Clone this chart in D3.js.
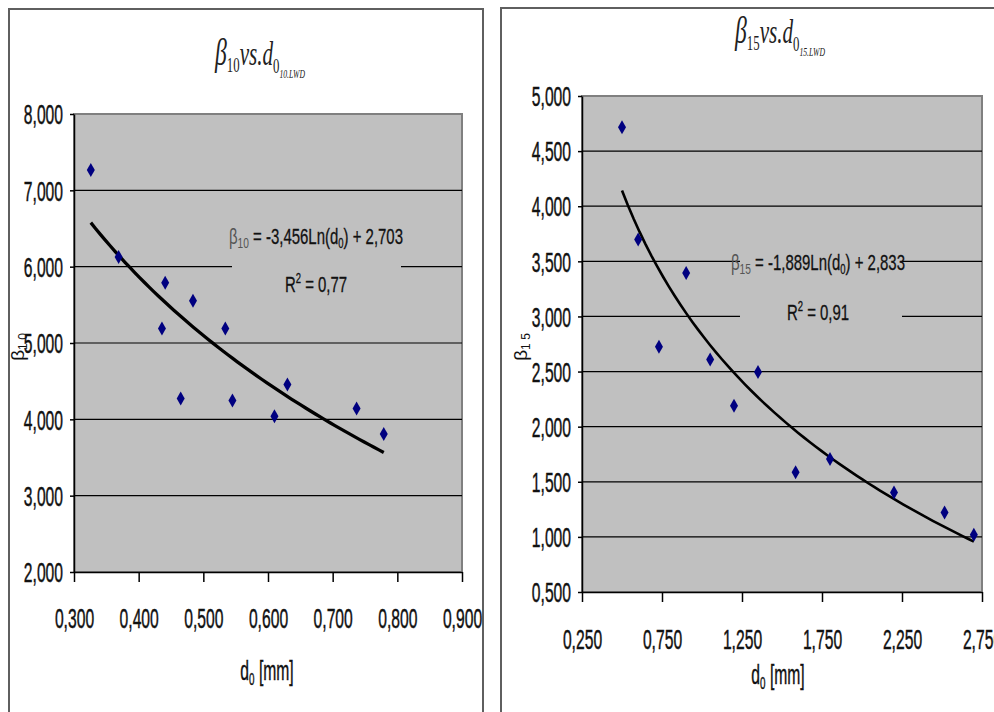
<!DOCTYPE html>
<html>
<head>
<meta charset="utf-8">
<script src="https://cdn.jsdelivr.net/npm/d3@7"></script>
<style>
  body { margin: 0; background: #fff; }
  svg { display: block; }
</style>
</head>
<body>
<svg id="chart" width="994" height="712"></svg>
<script>
// --- data ---
var leftD0   = [0.326, 0.369, 0.436, 0.441, 0.465, 0.484, 0.534, 0.545, 0.610, 0.630, 0.737, 0.779];
var leftBeta = [7.265, 6.128, 5.190, 5.790, 4.272, 5.553, 5.190, 4.246, 4.040, 4.456, 4.142, 3.808];
var rightD0   = [0.500, 0.601, 0.731, 0.901, 1.051, 1.200, 1.350, 1.585, 1.800, 2.200, 2.516, 2.699];
var rightBeta = [4.717, 3.698, 2.725, 3.395, 2.610, 2.190, 2.496, 1.587, 1.707, 1.402, 1.221, 1.019];

// log trend coefficients as printed on the chart: beta = a*ln(d0) + b
var trendA = [-3.456, -1.889];
var trendB = [2.703, 2.833];
var eqCoef = ["-3,456", "-1,889"];
var eqConst = ["2,703", "2,833"];
var rSquared = ["0,77", "0,91"];

var leftXTicks  = [0.3, 0.4, 0.5, 0.6, 0.7, 0.8, 0.9];
var leftYTicks  = [2, 3, 4, 5, 6, 7, 8];
var rightXTicks = [0.25, 0.75, 1.25, 1.75, 2.25, 2.75];
var rightYTicks = [0.5, 1, 1.5, 2, 2.5, 3, 3.5, 4, 4.5, 5];

var subs = ["10", "15"];

var svg = d3.select("#chart");
var SX = 0.58;           // narrow look of the labels
var fmt = function(d) { return d3.format(".3f")(d).replace(".", ","); };

// panel frames
svg.append("rect").attr("x", 9).attr("y", 9).attr("width", 474).attr("height", 720)
    .attr("fill", "#fff").attr("stroke", "#5f5f5f").attr("stroke-width", 2);
svg.append("rect").attr("x", 501).attr("y", 8).attr("width", 520).attr("height", 720)
    .attr("fill", "#fff").attr("stroke", "#5f5f5f").attr("stroke-width", 2);

drawPanel({
  i: 0, xs: leftD0, ys: leftBeta,
  xDom: [0.3, 0.9], xRange: [74, 462], yDom: [2, 8], yRange: [572, 114],
  xTicks: leftXTicks, yTicks: leftYTicks,
  title: [260, 65], yLab: [24, 347], xLab: [267, 680], xLabY: 46, lw: 3.3,
  box: [232, 222, 169, 80], eq: [316, 244, 292]
});
drawPanel({
  i: 1, xs: rightD0, ys: rightBeta,
  xDom: [0.25, 2.75], xRange: [582, 982], yDom: [0.5, 5], yRange: [592, 96],
  xTicks: rightXTicks, yTicks: rightYTicks,
  title: [780, 43], yLab: [527, 347], xLab: [778, 684], xLabY: 47, lw: 2.6,
  box: [740, 245, 162, 88], eq: [818, 270, 320]
});

function drawPanel(c) {
  var x = d3.scaleLinear().domain(c.xDom).range(c.xRange);
  var y = d3.scaleLinear().domain(c.yDom).range(c.yRange);
  var g = svg.append("g");

  // plot area
  g.append("rect")
      .attr("x", c.xRange[0]).attr("y", c.yRange[1])
      .attr("width", c.xRange[1] - c.xRange[0]).attr("height", c.yRange[0] - c.yRange[1])
      .attr("fill", "#c0c0c0").attr("stroke", "#808080").attr("stroke-width", 2);

  // grid lines
  g.selectAll(".grid")
      .data(c.yTicks.slice(1, -1))
      .enter().append("line")
      .attr("x1", c.xRange[0]).attr("x2", c.xRange[1])
      .attr("y1", function(d) { return y(d); }).attr("y2", function(d) { return y(d); })
      .attr("stroke", "#000").attr("stroke-width", 1.2);

  // box behind the equation
  g.append("rect")
      .attr("x", c.box[0]).attr("y", c.box[1]).attr("width", c.box[2]).attr("height", c.box[3])
      .attr("fill", "#c0c0c0");

  // axes
  var ya = g.append("g").attr("transform", "translate(" + c.xRange[0] + ",0)")
      .call(d3.axisLeft(y).tickValues(c.yTicks).tickFormat(fmt).tickSize(4).tickSizeOuter(0));
  var xa = g.append("g").attr("transform", "translate(0," + c.yRange[0] + ")")
      .call(d3.axisBottom(x).tickValues(c.xTicks).tickFormat(fmt).tickSize(10).tickSizeOuter(0));
  [ya, xa].forEach(function(a) {
    a.select(".domain").attr("stroke", "#000").attr("stroke-width", 1.5);
    a.selectAll(".tick line").attr("stroke", "#000").attr("stroke-width", 1.5);
    a.selectAll("text").attr("font-family", "'Liberation Sans', Arial, sans-serif")
        .attr("font-size", 27).attr("fill", "#111")
        .attr("stroke", "#111").attr("stroke-width", 0.45);
  });
  ya.selectAll("text").attr("x", -11 / SX).attr("dy", "0.36em").attr("transform", "scale(" + SX + ",1)");
  xa.selectAll("text").attr("y", c.xLabY).attr("dy", "0.36em").attr("transform", "scale(" + SX + ",1)")
      .attr("x", 0);

  // trend line
  var lo = d3.min(c.xs), hi = d3.max(c.xs);
  var pts = d3.range(0, 61).map(function(k) {
    var v = lo + (hi - lo) * k / 60;
    return [v, trendA[c.i] * Math.log(v) + trendB[c.i]];
  });
  g.append("path")
      .datum(pts)
      .attr("d", d3.line().x(function(d) { return x(d[0]); }).y(function(d) { return y(d[1]); }))
      .attr("fill", "none").attr("stroke", "#000").attr("stroke-width", c.lw);

  // diamonds
  g.selectAll(".pt")
      .data(c.xs.map(function(v, k) { return [v, c.ys[k]]; }))
      .enter().append("path")
      .attr("transform", function(d) { return "translate(" + x(d[0]) + "," + y(d[1]) + ")"; })
      .attr("d", "M0,-7L4,0L0,7L-4,0Z")
      .attr("fill", "#000080");

  // equation
  var eq = g.append("text")
      .attr("transform", "translate(" + c.eq[0] + "," + c.eq[1] + ") scale(0.68,1)")
      .attr("text-anchor", "middle")
      .attr("font-family", "'Liberation Sans', Arial, sans-serif")
      .attr("font-size", 22).attr("fill", "#111")
      .attr("stroke", "#111").attr("stroke-width", 0.3);
  eq.append("tspan").text("β").attr("fill", "#555").attr("stroke", "none");
  eq.append("tspan").text(subs[c.i]).attr("font-size", 15).attr("dy", 4).attr("fill", "#555").attr("stroke", "none");
  eq.append("tspan").text(" = " + eqCoef[c.i] + "Ln(d").attr("dy", -4);
  eq.append("tspan").text("0").attr("font-size", 14).attr("dy", 4);
  eq.append("tspan").text(") + " + eqConst[c.i]).attr("dy", -4);

  var r2 = g.append("text")
      .attr("transform", "translate(" + c.eq[0] + "," + c.eq[2] + ") scale(0.68,1)")
      .attr("text-anchor", "middle")
      .attr("font-family", "'Liberation Sans', Arial, sans-serif")
      .attr("font-size", 22).attr("fill", "#111")
      .attr("stroke", "#111").attr("stroke-width", 0.3);
  r2.append("tspan").text("R");
  r2.append("tspan").text("2").attr("font-size", 14).attr("dy", -9);
  r2.append("tspan").text(" = " + rSquared[c.i]).attr("dy", 9);

  // title
  var t = svg.append("text")
      .attr("transform", "translate(" + c.title[0] + "," + c.title[1] + ") scale(0.64,1)")
      .attr("text-anchor", "middle")
      .attr("font-family", "'Liberation Serif', 'Times New Roman', serif")
      .attr("font-style", "italic").attr("fill", "#222").attr("font-size", 33);
  t.append("tspan").text("β").attr("font-size", 37);
  t.append("tspan").text(subs[c.i]).attr("font-size", 20).attr("dy", 7).attr("font-style", "normal");
  t.append("tspan").text("vs.d").attr("dy", -7);
  t.append("tspan").text("0").attr("font-size", 20).attr("dy", 8).attr("font-style", "normal");
  t.append("tspan").text(subs[c.i] + ".LWD").attr("font-size", 12).attr("dy", 5);

  // y axis label, rotated
  var yl = svg.append("text")
      .attr("transform", "translate(" + c.yLab[0] + "," + c.yLab[1] + ") rotate(-90)")
      .attr("text-anchor", "middle")
      .attr("font-family", "'Liberation Sans', Arial, sans-serif")
      .attr("fill", "#111").attr("font-size", 19);
  yl.append("tspan").text("β");
  yl.append("tspan").text(subs[c.i].charAt(0) + " " + subs[c.i].charAt(1)).attr("font-size", 12).attr("dy", 3);

  // x axis label
  var xl = svg.append("text")
      .attr("transform", "translate(" + c.xLab[0] + "," + c.xLab[1] + ") scale(" + SX + ",1)")
      .attr("text-anchor", "middle")
      .attr("font-family", "'Liberation Sans', Arial, sans-serif")
      .attr("fill", "#111").attr("font-size", 27)
      .attr("stroke", "#111").attr("stroke-width", 0.4);
  xl.append("tspan").text("d");
  xl.append("tspan").text("0").attr("font-size", 17).attr("dy", 5);
  xl.append("tspan").text(" [mm]").attr("dy", -5);
}
</script>
</body>
</html>
